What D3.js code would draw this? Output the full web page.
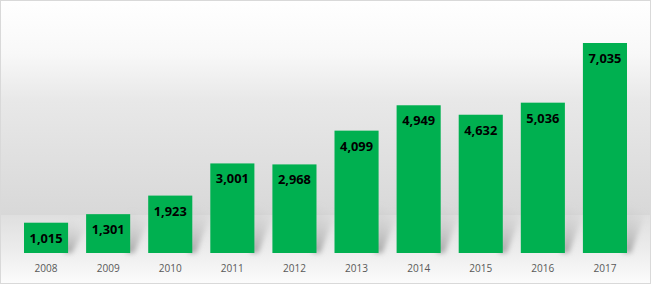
<!DOCTYPE html>
<html><head><meta charset="utf-8">
<script src="https://cdn.jsdelivr.net/npm/d3@7"></script>
<style>html,body{margin:0;padding:0;background:#fff;}svg{display:block;}</style>
</head><body>
<script>
const years = ["2008","2009","2010","2011","2012","2013","2014","2015","2016","2017"];
const values = [1015,1301,1923,3001,2968,4099,4949,4632,5036,7035];

const W = 651, H = 284;
const svg = d3.select("body").append("svg").attr("width", W).attr("height", H);
const defs = svg.append("defs");

const wall = defs.append("linearGradient").attr("id","wall").attr("x1",0).attr("y1",0).attr("x2",0).attr("y2",1);
wall.append("stop").attr("offset","0%").attr("stop-color","#ffffff");
wall.append("stop").attr("offset","25%").attr("stop-color","#f8f8f8");
wall.append("stop").attr("offset","47%").attr("stop-color","#e8e8e8");
wall.append("stop").attr("offset","100%").attr("stop-color","#d8d8d8");
const floor = defs.append("linearGradient").attr("id","floor").attr("x1",0).attr("y1",0).attr("x2",0).attr("y2",1);
floor.append("stop").attr("offset","0%").attr("stop-color","#dfdfdf");
floor.append("stop").attr("offset","50%").attr("stop-color","#ececec");
floor.append("stop").attr("offset","100%").attr("stop-color","#fcfcfc");
const sh = defs.append("linearGradient").attr("id","sh").attr("x1",0).attr("y1",1).attr("x2",0.3).attr("y2",0);
sh.append("stop").attr("offset","0%").attr("stop-color","#9a9a9a").attr("stop-opacity",0.9);
sh.append("stop").attr("offset","100%").attr("stop-color","#bbbbbb").attr("stop-opacity",0);
defs.append("filter").attr("id","blur").attr("x","-50%").attr("y","-50%").attr("width","200%").attr("height","200%")
  .append("feGaussianBlur").attr("stdDeviation",2.5);

const floorY = 215;
svg.append("rect").attr("x",0).attr("y",0).attr("width",W).attr("height",floorY).attr("fill","url(#wall)");
svg.append("rect").attr("x",0).attr("y",floorY).attr("width",W).attr("height",H-floorY).attr("fill","url(#floor)");

const x = d3.scaleBand().domain(years).range([15, 636]).paddingInner(0.29).paddingOuter(0.145);
const y = d3.scaleLinear().domain([0, 8000]).range([253, 14.2]);

// shadows
svg.append("g").selectAll("path").data(years).join("path")
  .attr("d", (d,i) => {
    const x0 = x(d), w = x.bandwidth(), b = y(0);
    const top = Math.max(y(values[i]), b - 45);
    return `M${x0+w-4},${b} L${x0+w+4},${b} L${x0+w+22},${top-4} L${x0+w},${top-4} Z`;
  })
  .attr("fill","url(#sh)").attr("filter","url(#blur)");

svg.append("g").selectAll("rect").data(years).join("rect")
  .attr("x", d => x(d)).attr("width", x.bandwidth())
  .attr("y", (d,i) => y(values[i])).attr("height", (d,i) => y(0) - y(values[i]))
  .attr("fill", "#00b050");

const fmt = d3.format(",");
svg.append("g").selectAll("text").data(years).join("text")
  .attr("x", d => x(d) + x.bandwidth()/2)
  .attr("y", (d,i) => y(values[i]) + 20)
  .attr("text-anchor","middle")
  .attr("font-family","'Open Sans', 'Liberation Sans', sans-serif")
  .attr("font-weight","bold").attr("font-size","13px").attr("fill","#000")
  .attr("textLength", 33).attr("lengthAdjust","spacingAndGlyphs")
  .text((d,i) => fmt(values[i]));

const xAxis = d3.axisBottom(x).tickSize(0).tickPadding(0);
const ax = svg.append("g").attr("transform", `translate(0,${y(0)})`).call(xAxis);
ax.select(".domain").remove();
ax.selectAll("text").attr("dy", null).attr("y", 19)
  .attr("font-family","'Open Sans', 'Liberation Sans', sans-serif")
  .attr("font-size","11px").attr("fill","#595959")
  .attr("textLength", 23).attr("lengthAdjust","spacingAndGlyphs");

svg.append("rect").attr("x",0.5).attr("y",0.5).attr("width",W-1).attr("height",H-1)
  .attr("fill","none").attr("stroke","#d9d9d9");
</script>
</body></html>
